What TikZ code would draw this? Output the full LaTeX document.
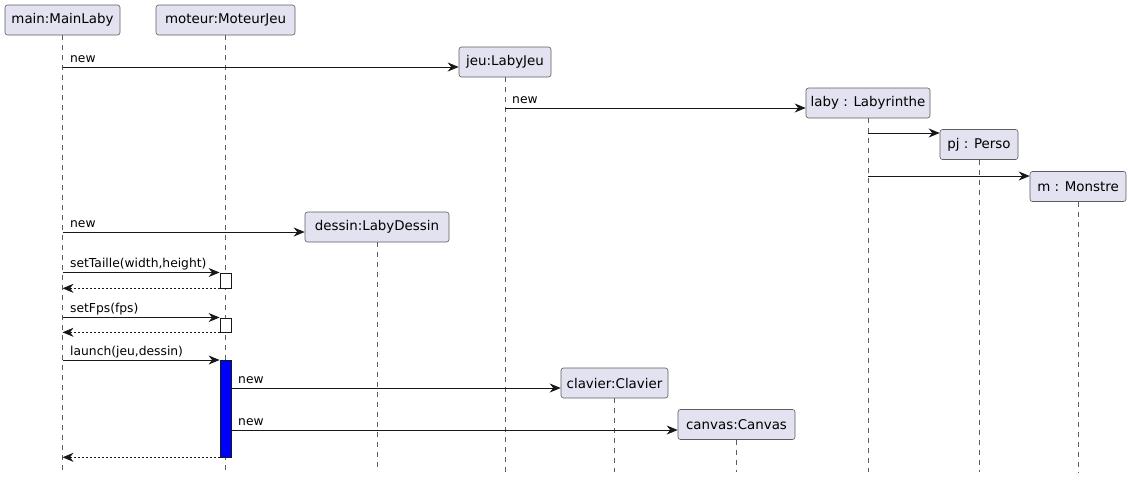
\documentclass[tikz,border=0pt]{standalone}
\usepackage{fontspec}
\setmainfont{DejaVu Sans}
\usetikzlibrary{arrows.meta}
\definecolor{partfill}{HTML}{E2E2F0}
\definecolor{umlline}{HTML}{181818}
\definecolor{actblue}{HTML}{0000FF}
\begin{document}
\begin{tikzpicture}[x=1pt,y=-1pt,
  part/.style={draw=umlline!70, fill=partfill, rounded corners=2.5pt, line width=0.6pt,
    inner xsep=2pt, inner ysep=0pt, minimum height=30pt, font=\fontsize{13.4}{16}\selectfont},
  life/.style={draw=umlline!70, dash pattern=on 5pt off 5pt, line width=0.5pt},
  msg/.style={draw=umlline, line width=0.9pt, -{Stealth[length=11pt,width=9pt,inset=3.5pt]}},
  ret/.style={msg, dash pattern=on 2pt off 2pt},
  lbl/.style={anchor=base west, inner sep=0pt, font=\fontsize{12.3}{14}\selectfont},
  act/.style={draw=umlline, line width=0.8pt, inner sep=0pt, minimum width=11pt, anchor=north}]
\useasboundingbox (0,0) rectangle (1131,480);

% participants
\node[part, minimum width=115pt] (main) at (62.5,20) {main:MainLaby};
\node[part, minimum width=139pt] (moteur) at (225.5,20) {moteur:MoteurJeu};
\node[part, minimum width=92pt] (jeu) at (505,62) {jeu:LabyJeu};
\node[part, minimum width=124pt] (laby) at (868,103) {laby : Labyrinthe};
\node[part, minimum width=78pt] (pj) at (979,144.5) {pj : Perso};
\node[part, minimum width=96pt] (m) at (1078,186.5) {m : Monstre};
\node[part, minimum width=144pt] (dessin) at (377,227) {dessin:LabyDessin};
\node[part, minimum width=107pt] (clavier) at (614.5,383) {clavier:Clavier};
\node[part, minimum width=117pt] (canvas) at (736.5,424.5) {canvas:Canvas};

% lifelines
\foreach \p in {main,moteur,jeu,laby,pj,m,dessin,clavier,canvas}
  \draw[life] (\p.south) -- (\p.south |- 0,472);

% activations
\node[act, fill=white, minimum height=15pt] (a1) at (225.5,272.5) {};
\node[act, fill=white, minimum height=14pt] (a2) at (225.5,317.5) {};
\node[act, fill=actblue, minimum height=96.5pt] (a3) at (225.5,360) {};

% messages
\draw[msg] (main.south |- 0,67) -- (jeu.west |- 0,67);
\node[lbl] (l1) at (70,62) {new};
\draw[msg] (jeu.south |- 0,108) -- (laby.west |- 0,108);
\node[lbl] (l2) at (512,103) {new};
\draw[msg] (laby.south |- 0,133) -- (pj.west |- 0,133);
\draw[msg] (laby.south |- 0,176) -- (m.west |- 0,176);
\draw[msg] (main.south |- 0,232) -- (dessin.west |- 0,232);
\node[lbl] (l3) at (70,227) {new};

\draw[msg] (main.south |- a1.north) -- (a1.north west);
\node[lbl] (l4) at (70,267) {setTaille(width,height)};
\draw[ret] (a1.south west) -- (main.south |- a1.south);

\draw[msg] (main.south |- a2.north) -- (a2.north west);
\node[lbl] (l5) at (70,312) {setFps(fps)};
\draw[ret] (a2.south west) -- (main.south |- a2.south);

\draw[msg] (main.south |- a3.north) -- (a3.north west);
\node[lbl] (l6) at (70,355) {launch(jeu,dessin)};
\draw[msg] (a3.east |- 0,388) -- (clavier.west |- 0,388);
\node[lbl] (l7) at (238,383) {new};
\draw[msg] (a3.east |- 0,430) -- (canvas.west |- 0,430);
\node[lbl] (l8) at (238,425) {new};
\draw[ret] (a3.south west) -- (main.south |- a3.south);
\end{tikzpicture}
\end{document}
